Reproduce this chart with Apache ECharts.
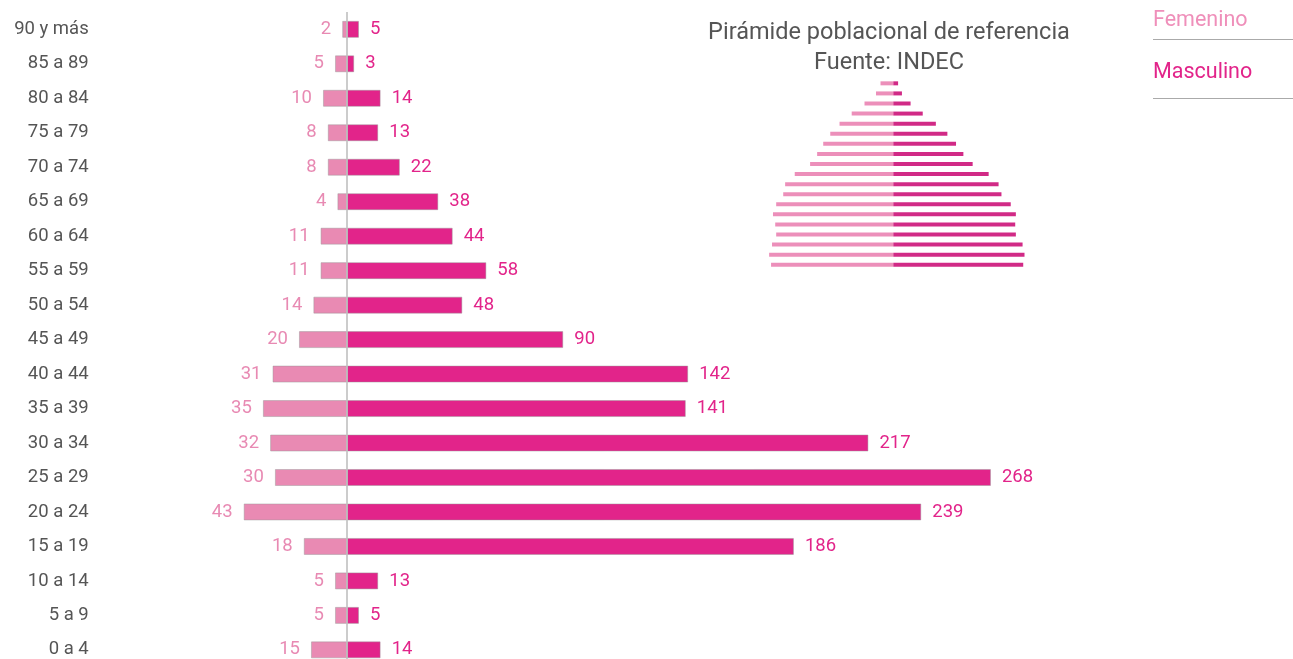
<!DOCTYPE html>
<html lang="es">
<head>
<meta charset="utf-8">
<title>Pirámide poblacional</title>
<script src="https://cdn.jsdelivr.net/npm/echarts@6/dist/echarts.min.js"></script>
<style>
  html, body { margin: 0; padding: 0; background: #fff; overflow: hidden; }
  /* the lowest band runs slightly past the visible page edge */
  #chart { width: 1293px; height: 672px; }
</style>
</head>
<body>
<div id="chart"></div>
<script>
// Grupos de edad, de mayor a menor (de arriba hacia abajo)
const categories = ['90 y más', '85 a 89', '80 a 84', '75 a 79', '70 a 74', '65 a 69', '60 a 64',
  '55 a 59', '50 a 54', '45 a 49', '40 a 44', '35 a 39', '30 a 34', '25 a 29', '20 a 24',
  '15 a 19', '10 a 14', '5 a 9', '0 a 4'];

// Casos por grupo de edad y sexo
const femenino = [2, 5, 10, 8, 8, 4, 11, 11, 14, 20, 31, 35, 32, 30, 43, 18, 5, 5, 15];
const masculino = [5, 3, 14, 13, 22, 38, 44, 58, 48, 90, 142, 141, 217, 268, 239, 186, 13, 5, 14];

// Pirámide de referencia (% de la población), mismos grupos de edad
const refFemenino = [0.40, 0.54, 0.90, 1.30, 1.68, 1.97, 2.19, 2.38, 2.60, 3.08, 3.38, 3.44,
  3.66, 3.76, 3.69, 3.66, 3.79, 3.88, 3.82];
const refMasculino = [0.15, 0.27, 0.54, 0.92, 1.33, 1.69, 1.96, 2.19, 2.48, 2.98, 3.29, 3.38,
  3.67, 3.83, 3.81, 3.83, 4.04, 4.10, 4.06];

const FONT = 'Roboto, "Noto Sans", sans-serif';
const C_FEM = '#e98ab3';
const C_MASC = '#e2248a';
const C_FEM_TXT = '#e88ab3';
const C_MASC_TXT = '#e2248a';

const neg = arr => arr.map(v => -v);

const chart = echarts.init(document.getElementById('chart'), null, { renderer: 'canvas' });

chart.setOption({
  animation: false,
  textStyle: { fontFamily: FONT },
  title: {
    text: 'Pirámide poblacional de referencia\nFuente: INDEC',
    left: 884,
    top: 13,
    textAlign: 'center',
    textStyle: { fontFamily: FONT, fontSize: 23.5, fontWeight: 'normal', color: '#555', lineHeight: 30 }
  },
  legend: {
    orient: 'vertical',
    left: 1143,
    top: 4,
    icon: 'none',
    itemWidth: 0,
    itemHeight: 24,
    itemGap: 29,
    selectedMode: false,
    data: [
      { name: 'Femenino', textStyle: { color: '#ef8fba' } },
      { name: 'Masculino', textStyle: { color: C_MASC_TXT } }
    ],
    textStyle: { fontFamily: FONT, fontSize: 21.5 }
  },
  graphic: [
    { type: 'line', shape: { x1: 1153, y1: 39.5, x2: 1293, y2: 39.5 }, style: { stroke: '#aaa', lineWidth: 1 } },
    { type: 'line', shape: { x1: 1153, y1: 98.5, x2: 1293, y2: 98.5 }, style: { stroke: '#aaa', lineWidth: 1 } }
  ],
  grid: [
    { left: 106.7, width: 1153.4, top: 12.1, height: 655 },
    { left: 758.9, width: 268.8, top: 78.3, height: 191.5 }
  ],
  xAxis: [
    { type: 'value', gridIndex: 0, min: -100, max: 380, show: false },
    { type: 'value', gridIndex: 1, min: -4.2, max: 4.2, show: false }
  ],
  yAxis: [
    {
      type: 'category', gridIndex: 0, data: categories, inverse: true,
      axisLine: { show: false }, axisTick: { show: false }, splitLine: { show: false },
      axisLabel: { margin: 18, fontSize: 18.5, color: '#555', fontFamily: FONT }
    },
    {
      type: 'category', gridIndex: 1, data: categories, inverse: true, show: false
    }
  ],
  series: [
    {
      name: 'Femenino', type: 'bar', xAxisIndex: 0, yAxisIndex: 0, stack: 'casos',
      data: neg(femenino), barWidth: 17,
      itemStyle: { color: C_FEM, borderColor: 'rgba(150,150,150,0.45)', borderWidth: 1 },
      label: {
        show: true, position: 'left', distance: 11,
        formatter: p => Math.abs(p.value),
        color: C_FEM_TXT, fontSize: 18.5, fontFamily: FONT
      }
    },
    {
      name: 'Masculino', type: 'bar', xAxisIndex: 0, yAxisIndex: 0, stack: 'casos',
      data: masculino, barWidth: 17,
      itemStyle: { color: C_MASC, borderColor: 'rgba(150,150,150,0.45)', borderWidth: 1 },
      label: {
        show: true, position: 'right', distance: 11,
        color: C_MASC_TXT, fontSize: 18.5, fontFamily: FONT
      },
      markLine: {
        silent: true, symbol: 'none', animation: false,
        label: { show: false },
        lineStyle: { color: '#bbb', width: 1.5, type: 'solid' },
        data: [{ xAxis: 0 }]
      }
    },
    {
      name: 'Femenino', type: 'bar', xAxisIndex: 1, yAxisIndex: 1, stack: 'ref',
      data: neg(refFemenino), barWidth: 4,
      itemStyle: { color: '#ec8fba' }
    },
    {
      name: 'Masculino', type: 'bar', xAxisIndex: 1, yAxisIndex: 1, stack: 'ref',
      data: refMasculino, barWidth: 4,
      itemStyle: { color: '#d12a86' }
    }
  ]
});
</script>
</body>
</html>
